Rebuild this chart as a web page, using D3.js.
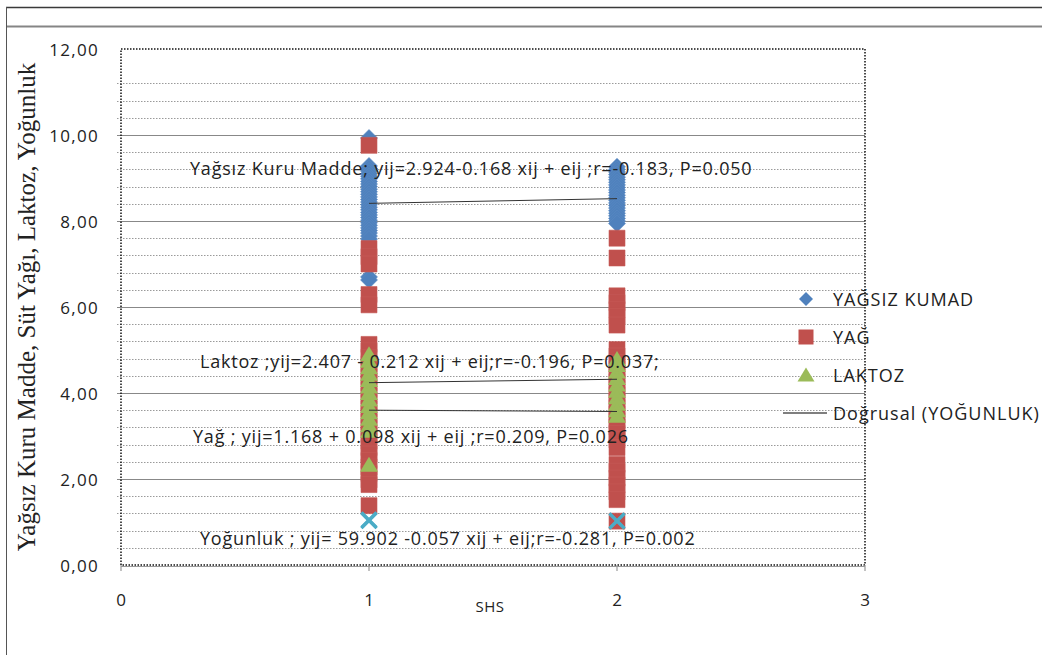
<!DOCTYPE html>
<html>
<head>
<meta charset="utf-8">
<script src="https://cdn.jsdelivr.net/npm/d3@7"></script>
<style>
  body { margin: 0; background: #fff; }
  svg { display: block; }
  text { font-family: "Open Sans", sans-serif; fill: #222; }
</style>
</head>
<body>
<div id="chart"></div>
<script>
// values
var kumad1 = [9.93, 9.28, 9.22, 9.16, 9.1, 9.04, 8.98, 8.92, 8.86, 8.8, 8.74, 8.68, 8.62, 8.56, 8.5, 8.44, 8.38,
  8.32, 8.26, 8.2, 8.14, 8.08, 8.02, 7.96, 7.9, 7.84, 7.78, 7.72, 7.65, 7.58, 6.7, 6.63];
var kumad2 = [9.26, 9.2, 9.14, 9.08, 9.02, 8.96, 8.9, 8.84, 8.78, 8.72, 8.66, 8.6, 8.54, 8.48, 8.42, 8.36,
  8.3, 8.24, 8.18, 8.12, 8.06, 8.0, 7.94];
var yag1 = [9.76, 7.36, 7.17, 7.0, 6.29, 6.05, 5.13, 4.98, 4.83, 4.68, 4.53, 4.38, 4.23, 4.08, 3.93, 3.78,
  3.63, 3.48, 3.33, 3.18, 3.03, 2.88, 2.73, 2.58, 2.43, 2.28, 2.13, 1.98, 1.87, 1.38];
var yag2 = [7.6, 7.14, 6.26, 6.1, 5.94, 5.78, 5.58, 5.01, 4.86, 4.71, 4.56, 4.41, 4.26, 4.11, 3.96, 3.81,
  3.66, 3.51, 3.36, 3.21, 3.06, 2.91, 2.73, 2.34, 2.18, 2.02, 1.86, 1.7, 1.52, 1.02];
var laktoz1 = [4.9, 4.75, 4.6, 4.45, 4.3, 4.15, 4.0, 3.85, 3.7, 3.55, 3.4, 3.25, 3.12, 2.33];
var laktoz2 = [4.79, 4.65, 4.5, 4.35, 4.2, 4.05, 3.9, 3.75, 3.6, 3.47];
var yogunluk1 = [1.03, 1.04, 1.05];
var yogunluk2 = [1.02, 1.03];

// trend line ends at SHS 1 and 2
var trendKumad = [8.41, 8.52];
var trendYag = [3.60, 3.57];
var trendLaktoz = [4.24, 4.32];

var legendLabels = ["YAĞSIZ KUMAD", "YAĞ", "LAKTOZ", "Doğrusal (YOĞUNLUK)"];
var equations = [
  "Yağsız Kuru Madde; yij=2.924-0.168 xij + eij ;r=-0.183, P=0.050",
  "Laktoz ;yij=2.407 - 0.212 xij + eij;r=-0.196, P=0.037;",
  "Yağ ; yij=1.168 + 0.098 xij + eij ;r=0.209, P=0.026",
  "Yoğunluk ; yij= 59.902 -0.057 xij + eij;r=-0.281, P=0.002"
];
var xTicks = [0, 1, 2, 3];
var yTicks = [0, 2, 4, 6, 8, 10, 12];
var yMinor = [0.4, 0.8, 1.2, 1.6, 2.4, 2.8, 3.2, 3.6, 4.4, 4.8, 5.2, 5.6, 6.4, 6.8, 7.2, 7.6,
  8.4, 8.8, 9.2, 9.6, 10.4, 10.8, 11.2];

var width = 1042, height = 655;
var svg = d3.select("#chart").append("svg")
  .attr("width", width)
  .attr("height", height);

var x = d3.scaleLinear().domain([0, 3]).range([121, 865]);
var y = d3.scaleLinear().domain([0, 12]).range([565, 49]);

// outer frame
svg.append("line").attr("x1", 6).attr("x2", width).attr("y1", 7.5).attr("y2", 7.5)
  .style("stroke", "#3a3a3a").style("stroke-width", "1.5px");
svg.append("line").attr("x1", 6).attr("x2", width).attr("y1", 26.5).attr("y2", 26.5)
  .style("stroke", "#858585").style("stroke-width", "2px");
svg.append("line").attr("x1", 6.5).attr("x2", 6.5).attr("y1", 7).attr("y2", height)
  .style("stroke", "#555").style("stroke-width", "1px");

// grid
svg.selectAll("line.minor").data(yMinor).enter().append("line")
  .attr("class", "minor")
  .attr("x1", x(0) - 4).attr("x2", x(3))
  .attr("y1", d => Math.round(y(d)) + 0.5).attr("y2", d => Math.round(y(d)) + 0.5)
  .style("stroke", "#9a9a9a").style("stroke-dasharray", "1.5,1.5");
svg.selectAll("line.major").data(yTicks.filter(d => d > 0 && d < 12)).enter().append("line")
  .attr("class", "major")
  .attr("x1", x(0) - 4).attr("x2", x(3))
  .attr("y1", d => Math.round(y(d)) + 0.5).attr("y2", d => Math.round(y(d)) + 0.5)
  .style("stroke", "#888").style("stroke-width", "1.2px");

// plot border (dotted)
svg.append("rect")
  .attr("x", x(0)).attr("y", y(12))
  .attr("width", x(3) - x(0)).attr("height", y(0) - y(12))
  .style("fill", "none").style("stroke", "#111")
  .style("stroke-width", "1.5px").style("stroke-dasharray", "1.5,1.5");
svg.append("line").attr("x1", x(0)).attr("x2", x(3)).attr("y1", y(0) + 1.5).attr("y2", y(0) + 1.5)
  .style("stroke", "#999").style("stroke-width", "1px");
svg.selectAll("line.xtick").data(xTicks).enter().append("line")
  .attr("class", "xtick")
  .attr("x1", d => x(d)).attr("x2", d => x(d))
  .attr("y1", y(0)).attr("y2", y(0) + 6)
  .style("stroke", "#999").style("stroke-width", "1.2px");

// axis labels
svg.selectAll("text.ylab").data(yTicks).enter().append("text")
  .attr("class", "ylab")
  .attr("x", 99).attr("y", d => y(d))
  .attr("text-anchor", "end").attr("dominant-baseline", "central")
  .style("font-size", "17px").style("letter-spacing", "1.3px")
  .text(d => d3.format(".2f")(d).replace(".", ","));
svg.selectAll("text.xlab").data(xTicks).enter().append("text")
  .attr("class", "xlab")
  .attr("x", d => x(d)).attr("y", 599)
  .attr("text-anchor", "middle").attr("dominant-baseline", "central")
  .style("font-size", "17px")
  .text(d => d);
svg.append("text")
  .attr("x", 490).attr("y", 606)
  .attr("text-anchor", "middle").attr("dominant-baseline", "central")
  .style("font-size", "15px").style("letter-spacing", "0.5px")
  .text("SHS");
svg.append("text")
  .attr("transform", "translate(35,307) rotate(-90)")
  .attr("text-anchor", "middle")
  .style("font-family", "'Liberation Serif', 'DejaVu Serif', serif")
  .style("font-size", "25px")
  .text("Yağsız Kuru Madde, Süt Yağı, Laktoz, Yoğunluk");

// marker shapes
function diamond(r) { return "M0," + (-r) + "L" + r + ",0L0," + r + "L" + (-r) + ",0Z"; }
function square(r) { return "M" + (-r) + "," + (-r) + "h" + (2 * r) + "v" + (2 * r) + "h" + (-2 * r) + "Z"; }
function triangle(r) { return "M0," + (-r) + "L" + (r + 1) + "," + (r - 1) + "L" + (-r - 1) + "," + (r - 1) + "Z"; }
function cross(r) { return "M" + (-r) + "," + (-r) + "L" + r + "," + r + "M" + (-r) + "," + r + "L" + r + "," + (-r); }

function points(a, b) {
  return a.map(v => [1, v]).concat(b.map(v => [2, v]));
}

var series = [
  { pts: points(kumad1, kumad2), path: diamond(8.5), fill: "#4F81BD", stroke: "#5b8ac2" },
  { pts: points(yag1, yag2), path: square(8), fill: "#C0504D", stroke: "#c65a57" },
  { pts: points(laktoz1, laktoz2), path: triangle(8), fill: "#9BBB59", stroke: "none" },
  { pts: points(yogunluk1, yogunluk2), path: cross(7.5), fill: "none", stroke: "#4BACC6" }
];

series.forEach(function(s) {
  svg.append("g").selectAll("path")
    .data(s.pts)
    .enter().append("path")
    .attr("transform", d => "translate(" + x(d[0]) + "," + y(d[1]) + ")")
    .attr("d", s.path)
    .style("fill", s.fill)
    .style("stroke", s.stroke)
    .style("stroke-width", s.fill == "none" ? "3px" : "0.6px");
});

// trend lines
[trendKumad, trendYag, trendLaktoz].forEach(function(t) {
  svg.append("line")
    .attr("x1", x(1)).attr("x2", x(2))
    .attr("y1", y(t[0])).attr("y2", y(t[1]))
    .style("stroke", "#333").style("stroke-width", "1px");
});

// equations
var eqPos = [[190, 175], [200, 368], [193, 443], [200, 545]];
svg.selectAll("text.eq").data(equations).enter().append("text")
  .attr("class", "eq")
  .attr("x", (d, i) => eqPos[i][0]).attr("y", (d, i) => eqPos[i][1])
  .style("font-size", "18px").style("letter-spacing", "0.8px")
  .text(d => d);

// legend
var leg = svg.append("g");
var legY = [299, 337, 375, 413];
var legShapes = [diamond(7), square(7.5), triangle(7.5)];
var legFills = ["#4F81BD", "#C0504D", "#9BBB59"];
legShapes.forEach(function(p, i) {
  leg.append("path").attr("d", p)
    .attr("transform", "translate(806," + legY[i] + ")")
    .style("fill", legFills[i]);
});
leg.append("line").attr("x1", 783).attr("x2", 827).attr("y1", legY[3]).attr("y2", legY[3])
  .style("stroke", "#555").style("stroke-width", "1.3px");
leg.selectAll("text").data(legendLabels).enter().append("text")
  .attr("x", 833).attr("y", (d, i) => legY[i])
  .attr("dominant-baseline", "central")
  .style("font-size", "18px").style("letter-spacing", "1px")
  .text(d => d);
</script>
</body>
</html>
